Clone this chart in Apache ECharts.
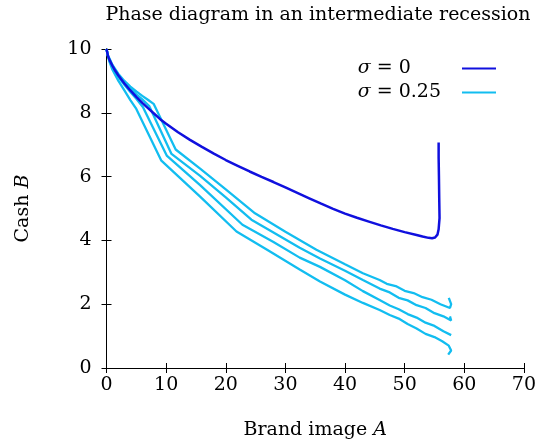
<!DOCTYPE html>
<html>
<head>
<meta charset="utf-8">
<script src="https://cdn.jsdelivr.net/npm/echarts@6/dist/echarts.min.js"></script>
<style>
  html, body { margin: 0; padding: 0; background: #fff; }
  #chart { width: 539px; height: 445px; }
</style>
</head>
<body>
<div id="chart"></div>
<script>
// Phase trajectories (brand image A, cash B)
const xTicks = [0, 10, 20, 30, 40, 50, 60, 70];
const yTicks = [0, 2, 4, 6, 8, 10];

// sigma = 0
const pathSigma0 = [
  [0, 10], [0.25, 9.78], [0.5, 9.66], [1, 9.47], [1.5, 9.31], [2, 9.17],
  [3, 8.92], [4, 8.7], [5, 8.5], [6, 8.31], [7, 8.14], [8, 7.97], [9, 7.8],
  [10, 7.66], [12, 7.39], [14, 7.15], [16, 6.93], [18, 6.72], [20, 6.52],
  [22, 6.34], [24, 6.16], [26, 5.99], [28, 5.83], [30, 5.66], [32, 5.49],
  [34, 5.32], [36, 5.15], [38, 4.99], [40, 4.84], [42, 4.71], [44, 4.59],
  [46, 4.47], [48, 4.36], [50, 4.26], [52, 4.17], [53, 4.12], [54, 4.08],
  [54.6, 4.07], [55.1, 4.09], [55.5, 4.18], [55.7, 4.35], [55.85, 4.7],
  [55.8, 5.3], [55.75, 6.0], [55.7, 6.6], [55.7, 7.07]
];

// sigma = 0.25, four realisations
const pathNoise1 = [
  [0, 10], [0.25, 9.8], [0.5, 9.7], [1, 9.5], [2, 9.22], [3, 9.0], [4, 8.82],
  [5, 8.67], [6, 8.53], [7, 8.4], [7.9, 8.28], [11.6, 6.85], [15.7, 6.25],
  [20, 5.6], [24.9, 4.85], [30, 4.27], [35.2, 3.71], [40, 3.25], [43, 2.97],
  [45.8, 2.76], [47, 2.64], [48.5, 2.57], [50, 2.42], [51.5, 2.35],
  [53, 2.22], [54.5, 2.14], [56, 2.0], [57.6, 1.88], [57.8, 2.0], [57.4, 2.2]
];
const pathNoise2 = [
  [0, 10], [0.25, 9.79], [0.5, 9.66], [1, 9.46], [2, 9.17], [3, 8.95],
  [4, 8.76], [5, 8.58], [6, 8.42], [7.2, 8.2], [10.9, 6.71], [15.7, 6.02],
  [20, 5.35], [24.3, 4.65], [28, 4.25], [32.4, 3.77], [35.8, 3.43], [40, 3.05],
  [43, 2.76], [45.8, 2.49], [47.5, 2.37], [49, 2.2], [50.5, 2.12], [52, 1.97],
  [53.5, 1.88], [55, 1.72], [56.5, 1.62], [57.8, 1.49], [57.6, 1.62]
];
const pathNoise3 = [
  [0, 10], [0.25, 9.78], [0.5, 9.63], [1, 9.42], [2, 9.12], [3, 8.88],
  [4, 8.65], [5, 8.44], [6.1, 8.18], [10.1, 6.66], [15.7, 5.73], [22.8, 4.49],
  [28, 3.95], [32.4, 3.46], [35.8, 3.17], [40, 2.75], [43, 2.41], [45.8, 2.13],
  [47.5, 1.96], [49, 1.84], [50.5, 1.69], [52, 1.58], [53.5, 1.42],
  [55, 1.32], [56.5, 1.15], [57.8, 1.03]
];
const pathNoise4 = [
  [0, 10], [0.25, 9.77], [0.5, 9.6], [1, 9.35], [2, 9.0], [3, 8.7], [4, 8.4],
  [5, 8.12], [9.2, 6.5], [15.7, 5.37], [21.8, 4.28], [27, 3.7], [32.4, 3.09],
  [35.8, 2.71], [40, 2.3], [43, 2.04], [45.8, 1.82], [47.5, 1.66], [49, 1.55],
  [50.5, 1.38], [52, 1.24], [53.5, 1.07], [55, 0.97], [56.3, 0.84],
  [57.4, 0.7], [57.8, 0.55], [57.3, 0.42]
];

const FONT = '"DejaVu Serif", serif';
const FS = 19;
const DARK = '#1010de';
const CYAN = '#12bdf0';

// Legend labels: text left-aligned in a common column, line key to the right
const ctx = document.createElement('canvas').getContext('2d');
ctx.font = FS + 'px "DejaVu Serif"';
const padExtra = ctx.measureText('.25').width;
const KEY_GAP = 16;
const NAME0 = '{i|σ} = 0{s| }';
const NAME1 = '{i|σ} = 0.25{g| }';

const chart = echarts.init(document.getElementById('chart'), null, { renderer: 'canvas' });

const italicRich = { i: { fontStyle: 'italic', fontFamily: FONT, fontSize: FS, color: '#000' } };

const axisCommon = {
  type: 'value',
  axisLine: { show: true, lineStyle: { color: '#000', width: 1 } },
  axisTick: { show: true, inside: true, length: 5, lineStyle: { color: '#000' } },
  splitLine: { show: false },
  axisLabel: { color: '#000', fontFamily: FONT, fontSize: FS }
};

function line(name, data, color, width) {
  return {
    type: 'line', name, data, showSymbol: false, symbol: 'none',
    lineStyle: { color, width }, itemStyle: { color },
    animation: false, z: color === DARK ? 3 : 2
  };
}

chart.setOption({
  animation: false,
  title: {
    text: 'Phase diagram in an intermediate recession',
    left: 313, top: 1, textAlign: 'center',
    textStyle: { fontFamily: FONT, fontSize: FS, fontWeight: 'normal', color: '#000' }
  },
  grid: { left: 106.5, right: 15, top: 49, bottom: 73.5, containLabel: false },
  legend: {
    orient: 'vertical', right: 38, top: 54, align: 'right',
    itemWidth: 34, itemHeight: 2, itemGap: 5,
    icon: 'rect',
    data: [
      { name: NAME0, itemStyle: { color: DARK } },
      { name: NAME1, itemStyle: { color: CYAN } }
    ],
    textStyle: {
      fontFamily: FONT, fontSize: FS, color: '#000',
      rich: Object.assign({
        s: { width: padExtra + KEY_GAP, fontSize: FS, fontFamily: FONT },
        g: { width: KEY_GAP, fontSize: FS, fontFamily: FONT }
      }, italicRich)
    }
  },
  xAxis: [
    Object.assign({}, axisCommon, {
      min: xTicks[0], max: xTicks[xTicks.length - 1], interval: 10,
      name: 'Brand image {i|A}', nameLocation: 'middle', nameGap: 53,
      nameTextStyle: { fontFamily: FONT, fontSize: FS, color: '#000', rich: italicRich },
      axisLabel: Object.assign({}, axisCommon.axisLabel, { margin: 8 })
    }),
    Object.assign({}, axisCommon, {
      position: 'top', min: 0, max: 70, interval: 10,
      axisLabel: { show: false }
    })
  ],
  yAxis: [
    Object.assign({}, axisCommon, {
      min: yTicks[0], max: yTicks[yTicks.length - 1], interval: 2,
      name: 'Cash {i|B}', nameLocation: 'middle', nameGap: 74, nameRotate: 90,
      nameTextStyle: { fontFamily: FONT, fontSize: FS, color: '#000', rich: italicRich },
      axisLabel: Object.assign({}, axisCommon.axisLabel, { margin: 15 })
    }),
    Object.assign({}, axisCommon, {
      position: 'right', min: 0, max: 10, interval: 2,
      axisLabel: { show: false }
    })
  ],
  series: [
    line(NAME0, pathSigma0, DARK, 2.5),
    line(NAME1, pathNoise1, CYAN, 2.3),
    line(NAME1, pathNoise2, CYAN, 2.3),
    line(NAME1, pathNoise3, CYAN, 2.3),
    line(NAME1, pathNoise4, CYAN, 2.3)
  ]
});
</script>
</body>
</html>
